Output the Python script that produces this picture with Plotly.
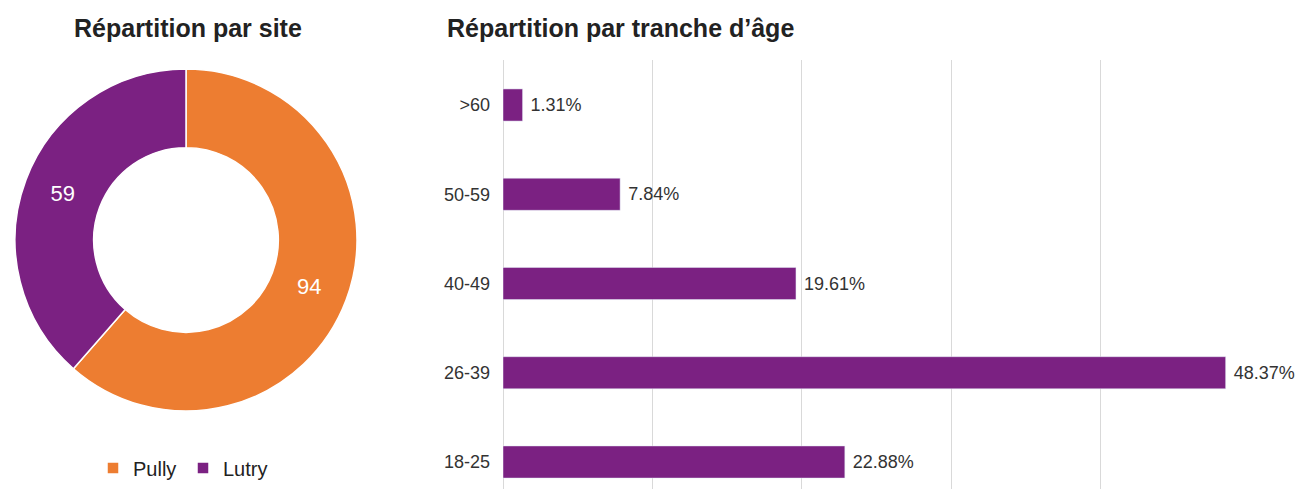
import plotly.graph_objects as go

# Data
sites = ["Pully", "Lutry"]
site_counts = [94, 59]
site_colors = ["#ED7D31", "#7B2182"]

age_groups = ["18-25", "26-39", "40-49", "50-59", ">60"]
age_pct = [22.88, 48.37, 19.61, 7.84, 1.31]
bar_color = "#7B2182"

W, H = 1298, 489
FONT = "Liberation Sans, Arial, sans-serif"


def px(x):
    return x / W


def py(y):
    return (H - y) / H


fig = go.Figure()

fig.add_trace(go.Pie(
    labels=sites,
    values=site_counts,
    hole=0.54,
    sort=False,
    direction="clockwise",
    rotation=0,
    marker=dict(colors=site_colors, line=dict(color="white", width=1.5)),
    textinfo="value",
    textposition="inside",
    insidetextorientation="horizontal",
    textfont=dict(color="white", size=22, family=FONT),
    domain=dict(x=[px(15), px(357)], y=[py(411), py(69)]),
    hoverinfo="label+value",
    showlegend=True,
))

fig.add_trace(go.Bar(
    y=age_groups,
    x=age_pct,
    orientation="h",
    marker=dict(color=bar_color),
    text=["\u00a0" + f"{v:.2f}%" for v in age_pct],
    textposition="outside",
    cliponaxis=False,
    textfont=dict(color="#333333", size=18, family=FONT),
    showlegend=False,
    xaxis="x",
    yaxis="y",
))

# y axis: category 0 centred at y=462, category 4 at y=105
unit = (462 - 105) / 4.0
y_top = 60
y_bot = H
fig.update_layout(
    width=W, height=H,
    margin=dict(l=0, r=0, t=0, b=0),
    paper_bgcolor="white",
    plot_bgcolor="white",
    font=dict(family=FONT, color="#333333"),
    bargap=0.64,
    xaxis=dict(
        domain=[px(503), px(1250)],
        range=[0, 50],
        dtick=10,
        showgrid=True,
        gridcolor="#d9d9d9",
        gridwidth=1,
        zeroline=True,
        zerolinecolor="#d9d9d9",
        zerolinewidth=1,
        showticklabels=False,
        showline=False,
        fixedrange=True,
    ),
    yaxis=dict(
        domain=[0, py(y_top)],
        range=[-(y_bot - 462) / unit, 4 + (105 - y_top) / unit],
        type="category",
        showgrid=False,
        zeroline=False,
        showline=False,
        ticks="",
        ticklabelstandoff=12,
        tickfont=dict(size=18, color="#333333", family=FONT),
        fixedrange=True,
    ),
    legend=dict(
        orientation="h",
        x=px(183), xanchor="center",
        y=py(468), yanchor="middle",
        font=dict(size=20, color="#222222", family=FONT),
        itemwidth=30,
        entrywidth=45,
        bgcolor="rgba(0,0,0,0)",
    ),
    annotations=[
        dict(text="<b>Répartition par site</b>", x=px(188), y=py(28),
             xref="paper", yref="paper", xanchor="center", yanchor="middle",
             showarrow=False, font=dict(size=25, color="#222222", family=FONT)),
        dict(text="<b>Répartition par tranche d’âge</b>", x=px(445), y=py(28),
             xref="paper", yref="paper", xanchor="left", yanchor="middle",
             showarrow=False, font=dict(size=25, color="#222222", family=FONT)),
    ],
)

fig.write_html(
    "out.html",
    config={"displayModeBar": False},
    post_script="document.body.style.margin='0';document.body.style.overflow='hidden';",
)
